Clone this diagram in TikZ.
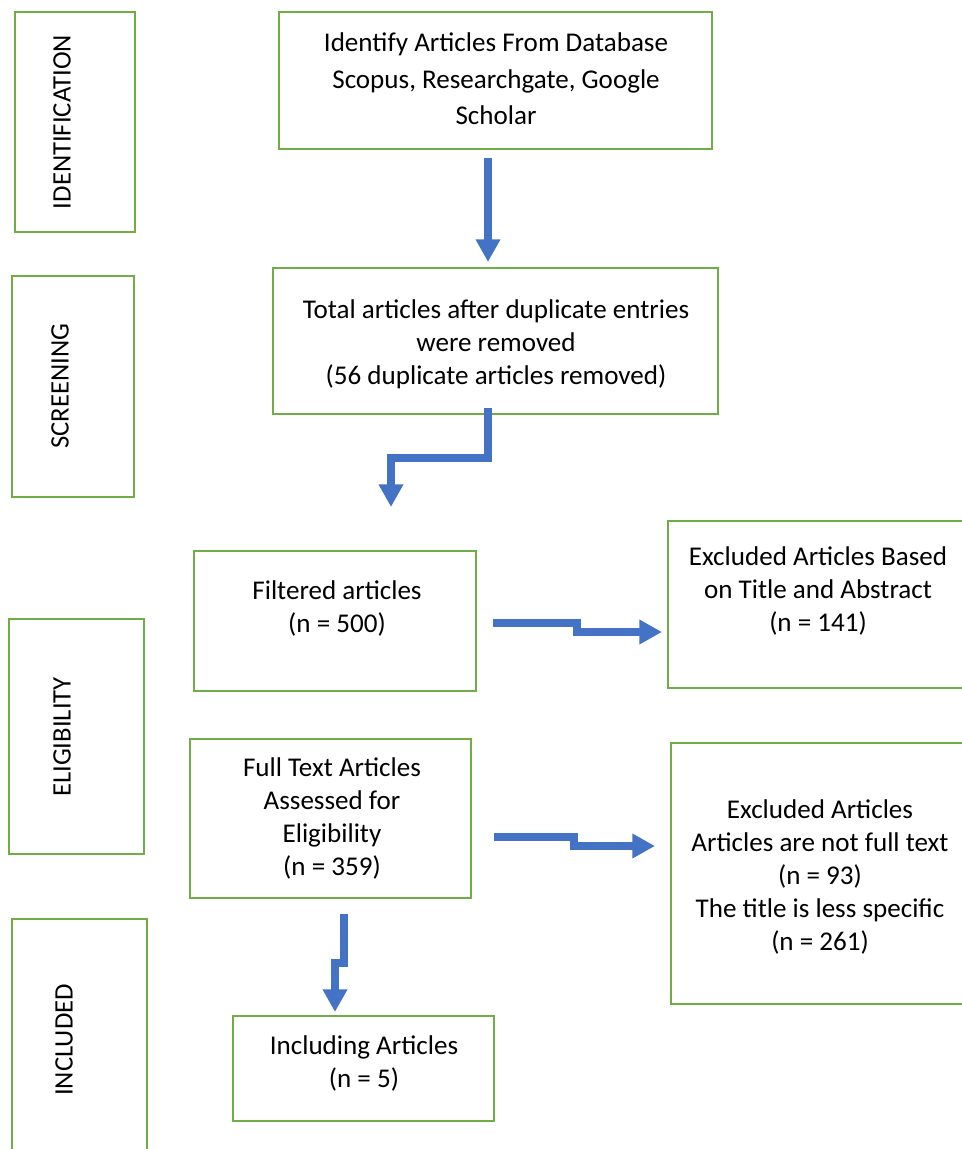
\documentclass[tikz,border=0pt]{standalone}
\usepackage{fontspec}
\setmainfont{Carlito}
\usetikzlibrary{arrows.meta,fit}
\definecolor{boxgreen}{HTML}{70AD47}
\definecolor{arrowblue}{HTML}{4472C4}
\tikzset{
  box/.style={draw=boxgreen, line width=1.6pt, inner sep=0pt, rectangle},
  txt/.style={inner sep=0pt, align=center, font=\fontsize{20.3}{24.75}\selectfont},
  stage/.style={inner sep=0pt, rotate=90, font=\fontsize{20}{22}\selectfont},
  arr/.style={draw=arrowblue, line width=6pt, line join=miter,
    -{Triangle[width=17.5pt,length=17pt]}}
}
\begin{document}
\begin{tikzpicture}[x=0.75pt,y=-0.75pt]
\useasboundingbox (0,0) rectangle (962,1149);
\clip (0,0) rectangle (962,1149);
% stage boxes
\node[box, fit={(15,12) (135,232)}] (s1) {};
\node[box, fit={(12,276) (134,497)}] (s2) {};
\node[box, fit={(9,619) (144,854)}] (s3) {};
\node[box, fit={(12,919) (147,1170)}] (s4) {};
\node[stage] (s1t) at (62,122) {IDENTIFICATION};
\node[stage] (s2t) at (60,386) {SCREENING};
\node[stage] (s3t) at (62,737) {ELIGIBILITY};
\node[stage] (s4t) at (64,1040) {INCLUDED};
% flow boxes
\node[box, fit={(279,12) (712,149)}] (b1) {};
\node[box, fit={(273,268) (718,414)}] (b2) {};
\node[box, fit={(194,551) (476,691)}] (b3) {};
\node[box, fit={(668,521) (980,688)}] (b4) {};
\node[box, fit={(190,739) (471,898)}] (b5) {};
\node[box, fit={(671,743) (980,1004)}] (b6) {};
\node[box, fit={(233,1016) (494,1121)}] (b7) {};
% texts
\node[txt, font=\fontsize{20.3}{27.4}\selectfont] (t1) at (496,79) {Identify Articles From Database\\Scopus, Researchgate, Google\\Scholar};
\node[txt] (t2) at (496,344) {Total articles after duplicate entries\\were removed\\(56 duplicate articles removed)};
\node[txt] (t3) at (337,608) {Filtered articles\\(n = 500)};
\node[txt] (t4) at (818,591) {Excluded Articles Based\\on Title and Abstract\\(n = 141)};
\node[txt] (t5) at (332,818) {Full Text Articles\\Assessed for\\Eligibility\\(n = 359)};
\node[txt] (t6) at (820,877) {Excluded Articles\\Articles are not full text\\(n = 93)\\The title is less specific\\(n = 261)};
\node[txt] (t7) at (364,1063) {Including Articles\\(n = 5)};
% arrow end points
\coordinate (a1s) at (488,158);
\coordinate (a1e) at (488,262);
\coordinate (a2s) at (488,408);
\coordinate (a2e) at (391,507);
\coordinate (a3s) at (493,623);
\coordinate (a3e) at (662,632);
\coordinate (a4s) at (494,837);
\coordinate (a4e) at (655,846);
\coordinate (a5s) at (344,914);
\coordinate (a5e) at (335,1012);
% arrows
\draw[arr] (a1s) -- (a1e);
\draw[arr] (a2s) -- (488,458) -- (391,458) -- (a2e);
\draw[arr] (a3s) -- (577,623) -- (577,632) -- (a3e);
\draw[arr] (a4s) -- (574,837) -- (574,846) -- (a4e);
\draw[arr] (a5s) -- (344,963) -- (335,963) -- (a5e);
\end{tikzpicture}
\end{document}
